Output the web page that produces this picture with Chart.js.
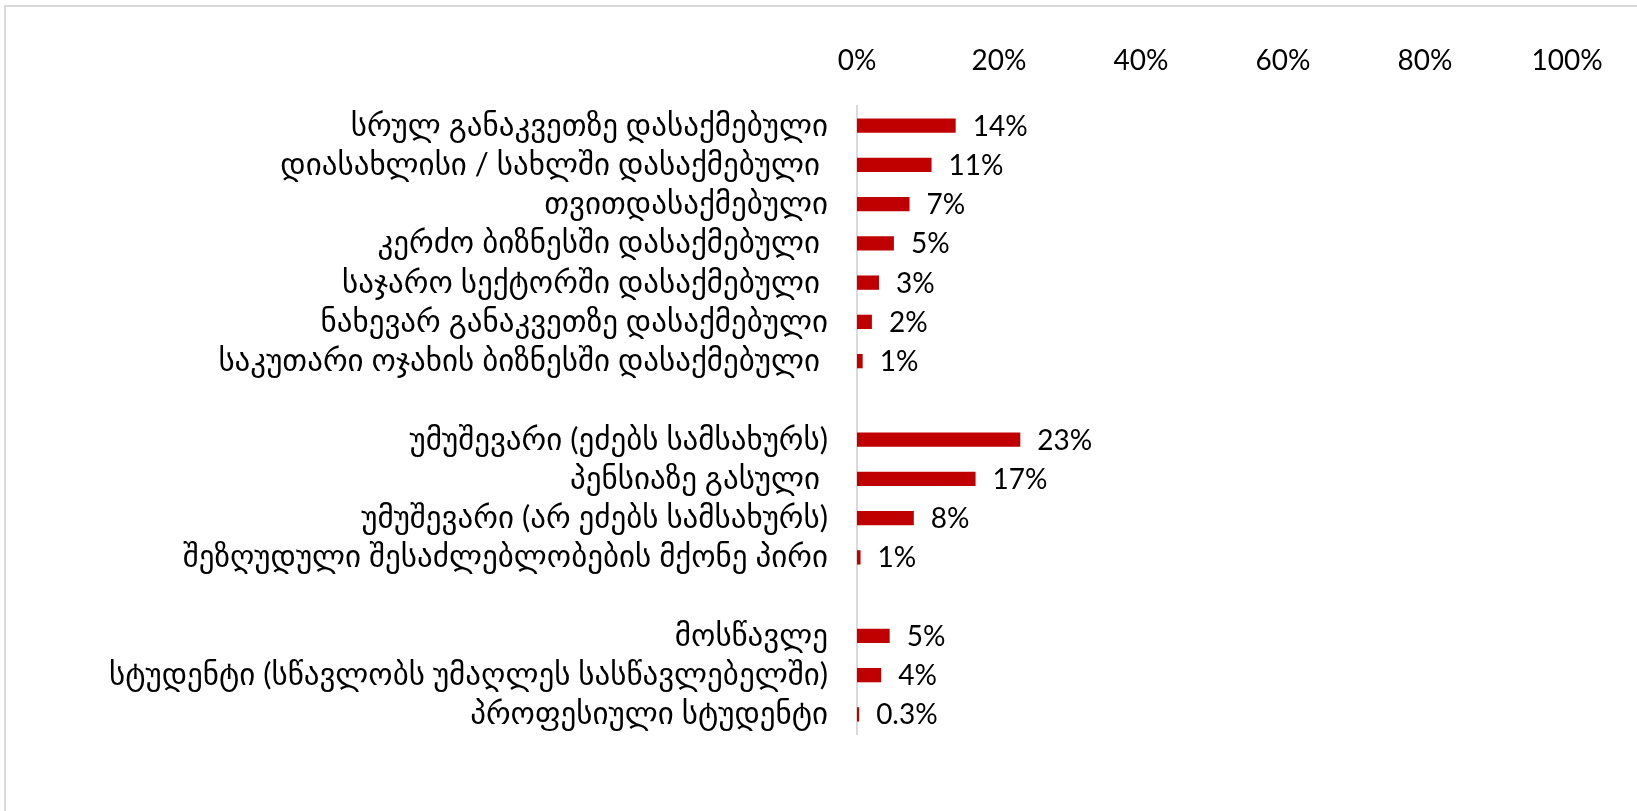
<!DOCTYPE html>
<html>
<head>
<meta charset="utf-8">
<script src="https://cdn.jsdelivr.net/npm/chart.js@4"></script>
<style>
  html, body { margin: 0; padding: 0; background: #fff; overflow: hidden; }
  #frame { position: absolute; left: 4px; top: 5px; width: 1700px; height: 900px;
           border-left: 2px solid #d9d9d9; border-top: 2px solid #d9d9d9; }
  #chart { position: absolute; left: 0; top: 0; }
</style>
</head>
<body>
<div id="frame"></div>
<canvas id="chart" width="1637" height="811"></canvas>
<script>
// კატეგორიები (ცარიელი სტრიქონი = ჯგუფებს შორის შუალედი)
const categories = [
    'სრულ განაკვეთზე დასაქმებული',
    'დიასახლისი / სახლში დასაქმებული ',
    'თვითდასაქმებული',
    'კერძო ბიზნესში დასაქმებული ',
    'საჯარო სექტორში დასაქმებული ',
    'ნახევარ განაკვეთზე დასაქმებული',
    'საკუთარი ოჯახის ბიზნესში დასაქმებული ',
    '',
    'უმუშევარი (ეძებს სამსახურს)',
    'პენსიაზე გასული ',
    'უმუშევარი (არ ეძებს სამსახურს)',
    'შეზღუდული შესაძლებლობების მქონე პირი',
    '',
    'მოსწავლე',
    'სტუდენტი (სწავლობს უმაღლეს სასწავლებელში)',
    'პროფესიული სტუდენტი'
];

// მნიშვნელობები (%)
const values = [13.9, 10.5, 7.4, 5.2, 3.1, 2.1, 0.8, null, 23.0, 16.7, 8.0, 0.5, null, 4.6, 3.4, 0.3];

// წარწერები ზოლებთან
const valueLabels = ['14%', '11%', '7%', '5%', '3%', '2%', '1%', '', '23%', '17%', '8%', '1%', '', '5%', '4%', '0.3%'];

const axisTicks = [0, 20, 40, 60, 80, 100];

const barColor = '#C00000';
const textFont = "Lato, 'DejaVu Sans', sans-serif";

// წარწერები ზოლების ბოლოში
const barValuePlugin = {
    id: 'barValues',
    afterDatasetsDraw(chart) {
        const ctx = chart.ctx;
        const meta = chart.getDatasetMeta(0);
        ctx.save();
        ctx.font = '28px ' + textFont;
        ctx.fillStyle = '#000';
        ctx.textAlign = 'left';
        ctx.textBaseline = 'middle';
        meta.data.forEach((bar, i) => {
            if (!valueLabels[i]) return;
            ctx.fillText(valueLabels[i], bar.x + 17, bar.y + 1);
        });
        ctx.restore();
    }
};

new Chart(document.getElementById('chart').getContext('2d'), {
    type: 'bar',
    data: {
        labels: categories,
        datasets: [{
            data: values,
            backgroundColor: barColor,
            categoryPercentage: 1,
            barPercentage: 0.365
        }]
    },
    options: {
        indexAxis: 'y',
        responsive: false,
        animation: false,
        layout: { padding: { left: 0, right: 70, top: 0, bottom: 77 } },
        plugins: {
            legend: { display: false },
            tooltip: { enabled: false }
        },
        scales: {
            x: {
                position: 'top',
                min: 0,
                max: 100,
                afterBuildTicks: s => { s.ticks = axisTicks.map(v => ({ value: v })); },
                afterFit: s => { s.height = 106; },
                grid: { display: false, drawTicks: false },
                border: { display: false },
                ticks: {
                    padding: 28,
                    color: '#000',
                    font: { family: textFont, size: 28 },
                    callback: v => v + '%'
                }
            },
            y: {
                afterFit: s => { s.width = 857; },
                grid: { display: false, drawTicks: false },
                border: { display: true, color: '#d9d9d9', width: 2 },
                ticks: {
                    padding: 29,
                    color: '#000',
                    autoSkip: false,
                    font: { family: textFont, size: 31 }
                }
            }
        }
    },
    plugins: [barValuePlugin]
});
</script>
</body>
</html>
